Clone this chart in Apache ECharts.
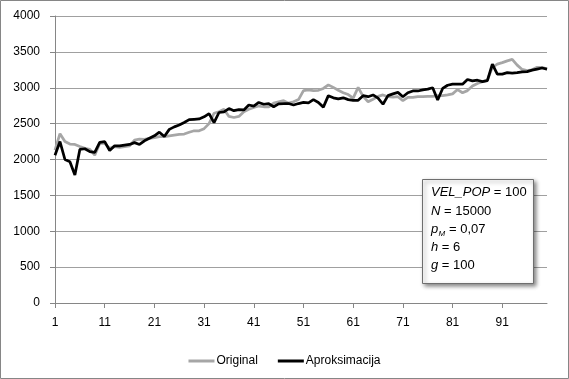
<!DOCTYPE html>
<html>
<head>
<meta charset="utf-8">
<script src="https://cdn.jsdelivr.net/npm/echarts@6/dist/echarts.min.js"></script>
<style>
html,body{margin:0;padding:0;background:#fff;}
#c{width:569px;height:379px;}
</style>
</head>
<body>
<div id="c"></div>
<script>
var categories = [];
for (var k = 1; k <= 100; k++) categories.push(String(k));

var original = [
2130,2360,2250,2215,2210,2180,2155,2140,2060,2225,
2225,2155,2180,2170,2180,2190,2270,2285,2280,2295,
2305,2320,2320,2330,2340,2350,2355,2380,2400,2400,
2430,2500,2645,2665,2700,2600,2585,2600,2665,2700,
2725,2745,2735,2735,2785,2805,2820,2785,2805,2835,
2960,2970,2960,2965,2990,3040,3005,2965,2930,2905,
2855,3005,2880,2805,2840,2880,2900,2875,2870,2875,
2820,2865,2865,2875,2875,2880,2880,2890,2890,2900,
2915,2975,2930,2960,3025,3060,3085,3105,3285,3330,
3350,3375,3395,3315,3255,3240,3250,3285,3285,3260
];

var aproksimacija = [
2060,2250,2000,1970,1785,2140,2150,2110,2100,2240,
2250,2125,2190,2190,2200,2210,2235,2210,2260,2295,
2330,2380,2320,2420,2455,2480,2515,2555,2560,2565,
2595,2640,2515,2655,2665,2710,2680,2695,2690,2760,
2745,2795,2770,2780,2735,2775,2780,2780,2760,2780,
2795,2790,2835,2795,2730,2890,2860,2845,2860,2835,
2825,2825,2890,2875,2900,2855,2770,2890,2915,2935,
2875,2930,2955,2955,2970,2980,3000,2830,2990,3035,
3050,3050,3050,3115,3095,3105,3085,3100,3330,3190,
3190,3210,3205,3210,3220,3225,3245,3260,3275,3260
];

var yTicks = [0, 500, 1000, 1500, 2000, 2500, 3000, 3500, 4000];

var FONT = 'Liberation Sans';
var chart = echarts.init(document.getElementById('c'), null, {renderer: 'canvas'});
chart.setOption({
  animation: false,
  backgroundColor: '#fff',
  textStyle: {fontFamily: FONT},
  grid: {left: 55, right: 22, top: 16, bottom: 76, containLabel: false},
  xAxis: {
    type: 'category',
    data: categories,
    boundaryGap: false,
    axisLine: {show: true, lineStyle: {color: '#868686', width: 1}},
    axisTick: {show: true, interval: 9, length: 5, lineStyle: {color: '#868686'}},
    axisLabel: {interval: 9, margin: 14, color: '#000', fontSize: 12, fontFamily: FONT},
    splitLine: {show: false}
  },
  yAxis: {
    type: 'value',
    min: yTicks[0],
    max: yTicks[yTicks.length - 1],
    interval: 500,
    axisLine: {show: true, lineStyle: {color: '#868686', width: 1}},
    axisTick: {show: true, length: 5, lineStyle: {color: '#868686'}},
    axisLabel: {margin: 15, color: '#000', fontSize: 12, fontFamily: FONT,
                formatter: function (v) { return String(v); }},
    splitLine: {show: true, lineStyle: {color: '#a0a0a0', width: 1}}
  },
  legend: {
    left: 'center',
    top: 350,
    itemWidth: 26,
    itemHeight: 3,
    itemGap: 20,
    icon: 'rect',
    textStyle: {color: '#000', fontSize: 12, fontFamily: FONT, padding: [0,0,0,-3]},
    data: ['Original', 'Aproksimacija']
  },
  series: [
    {name: 'Original', type: 'line', data: original, symbol: 'none', smooth: false,
     lineStyle: {color: '#a6a6a6', width: 2.75}, itemStyle: {color: '#a6a6a6'}},
    {name: 'Aproksimacija', type: 'line', data: aproksimacija, symbol: 'none', smooth: false,
     lineStyle: {color: '#000', width: 2.75}, itemStyle: {color: '#000'}}
  ],
  graphic: [
    {type: 'rect', shape: {x: 0.5, y: 0.5, width: 568, height: 378},
     style: {fill: 'none', stroke: '#868686', lineWidth: 1}, silent: true},
    {type: 'rect', shape: {x: 422.5, y: 179.5, width: 111, height: 104},
     style: {fill: '#fff', stroke: '#6e6e6e', lineWidth: 1,
             shadowBlur: 4, shadowOffsetX: 2, shadowOffsetY: 2, shadowColor: 'rgba(0,0,0,0.45)'}, z: 100},
    {type: 'text', left: 431, top: 186, z: 101,
     style: {text: '{i|VEL_POP}{n| = 100}', rich: {i: {fontStyle: 'italic', fontSize: 13, fontFamily: FONT, fill: '#000'}, n: {fontSize: 13, fontFamily: FONT, fill: '#000'}}}},
    {type: 'text', left: 431, top: 205, z: 101,
     style: {text: '{i|N}{n| = 15000}', rich: {i: {fontStyle: 'italic', fontSize: 13, fontFamily: FONT, fill: '#000'}, n: {fontSize: 13, fontFamily: FONT, fill: '#000'}}}},
    {type: 'text', left: 431, top: 223, z: 101,
     style: {text: 'p', font: 'italic 13px "Liberation Sans"', fill: '#000'}},
    {type: 'text', left: 438.5, top: 230, z: 101,
     style: {text: 'M', font: 'italic 8px "Liberation Sans"', fill: '#000'}},
    {type: 'text', left: 449, top: 223, z: 101,
     style: {text: '= 0,07', font: '13px "Liberation Sans"', fill: '#000'}},
    {type: 'text', left: 431, top: 241, z: 101,
     style: {text: '{i|h}{n| = 6}', rich: {i: {fontStyle: 'italic', fontSize: 13, fontFamily: FONT, fill: '#000'}, n: {fontSize: 13, fontFamily: FONT, fill: '#000'}}}},
    {type: 'text', left: 431, top: 259, z: 101,
     style: {text: '{i|g}{n| = 100}', rich: {i: {fontStyle: 'italic', fontSize: 13, fontFamily: FONT, fill: '#000'}, n: {fontSize: 13, fontFamily: FONT, fill: '#000'}}}}
  ]
});
</script>
</body>
</html>
